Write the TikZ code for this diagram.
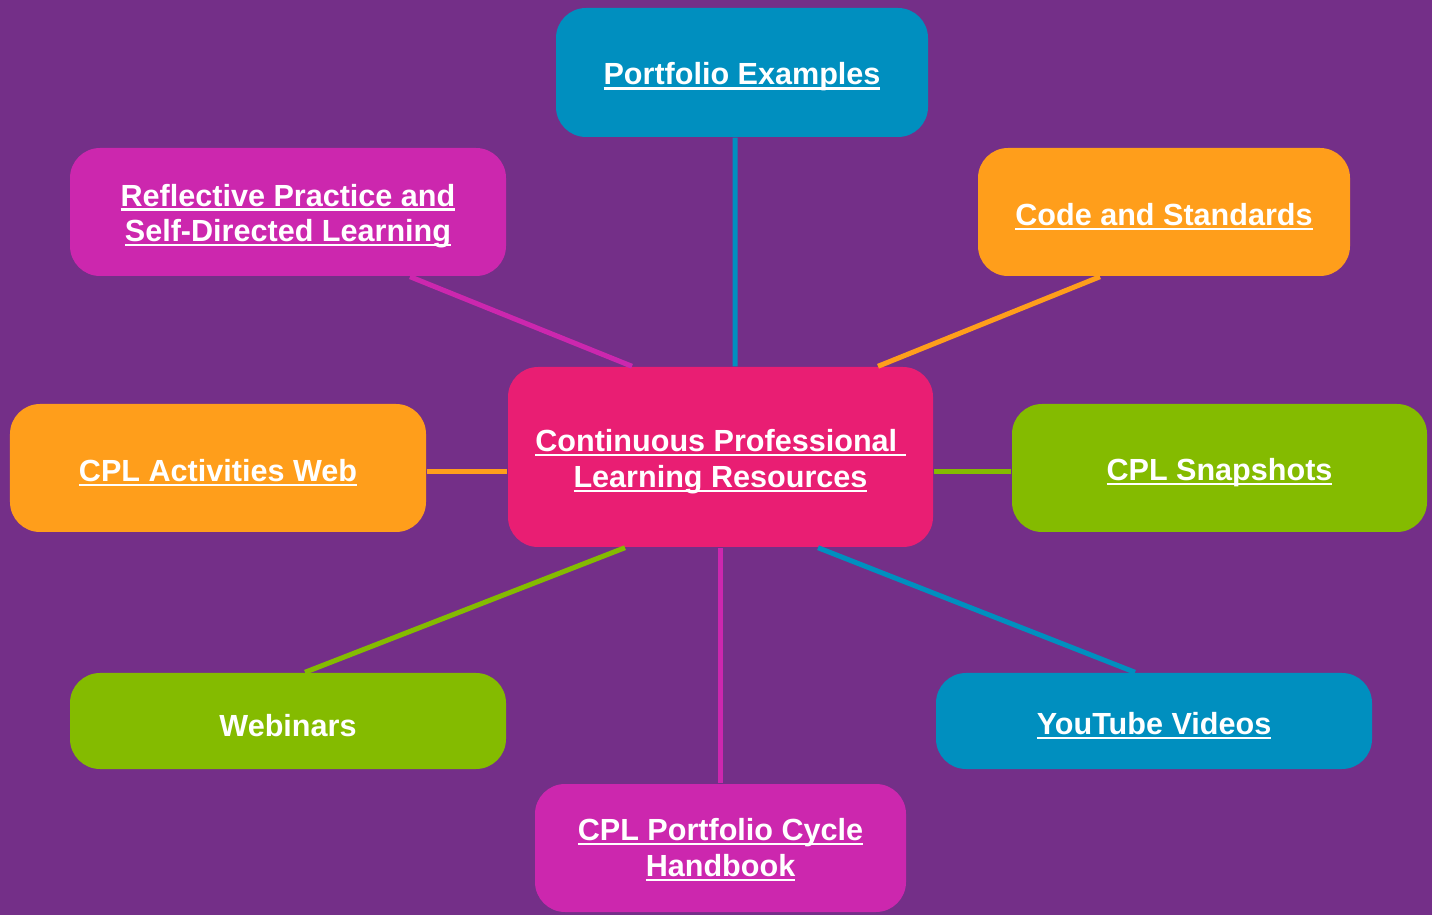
\documentclass[tikz,border=0pt]{standalone}
\usepackage{fontspec}
\usepackage{tikz}
\setmainfont{Liberation Sans}
\definecolor{purple1}{HTML}{742F88}
\definecolor{blue1}{HTML}{008FBF}
\definecolor{magenta1}{HTML}{CC27AE}
\definecolor{orange1}{HTML}{FF9E1B}
\definecolor{green1}{HTML}{84BB00}
\definecolor{pink1}{HTML}{E91E73}
% underlined link text
\newcommand{\lnk}[1]{\setbox0\hbox{#1}\rlap{\copy0}\rule[-1.3pt]{\wd0}{0.6pt}}
\tikzset{
  lift/.style={execute at begin node={\rule{0pt}{#1}}},
  box/.style={rounded corners=0.3cm, text=white, align=center, inner sep=0pt,
    lift=8.9pt, font=\fontsize{8.7}{10.2}\selectfont\bfseries},
  spoke/.style={line width=0.05cm}
}

\begin{document}
\begin{tikzpicture}
\fill[purple1] (0,0) rectangle (14.32,9.15);
\useasboundingbox (0,0) rectangle (14.32,9.15);
% hub and the eight resources round it
\node[box,lift=19.35pt,fill=pink1,minimum width=4.25cm,minimum height=1.8cm] (hub) at (7.205,4.58)
  {\lnk{Continuous Professional\ }\\\lnk{Learning Resources}};
\node[box,fill=blue1,minimum width=3.72cm,minimum height=1.29cm] (port) at (7.42,8.425)
  {\lnk{Portfolio Examples}};
\node[box,lift=18.85pt,fill=magenta1,minimum width=4.36cm,minimum height=1.28cm] (refl) at (2.88,7.03)
  {\lnk{Reflective Practice and}\\\lnk{Self-Directed Learning}};
\node[box,fill=orange1,minimum width=3.72cm,minimum height=1.28cm] (code) at (11.64,7.03)
  {\lnk{Code and Standards}};
\node[box,fill=orange1,minimum width=4.16cm,minimum height=1.28cm] (act) at (2.18,4.47)
  {\lnk{CPL Activities Web}};
\node[box,fill=green1,minimum width=4.15cm,minimum height=1.28cm] (snap) at (12.195,4.47)
  {\lnk{CPL Snapshots}};
\node[box,fill=green1,minimum width=4.36cm,minimum height=0.96cm] (web) at (2.88,1.94)
  {Webinars};
\node[box,fill=blue1,minimum width=4.36cm,minimum height=0.96cm] (yt) at (11.54,1.94)
  {\lnk{YouTube Videos}};
\node[box,lift=17.35pt,fill=magenta1,minimum width=3.71cm,minimum height=1.28cm] (hand) at (7.205,0.67)
  {\lnk{CPL Portfolio Cycle}\\\lnk{Handbook}};
% spokes
\draw[spoke,blue1] ([xshift=-0.07cm]port.south) -- ([xshift=0.145cm]hub.north);
\draw[spoke,magenta1] ([xshift=1.22cm]refl.south) -- ([xshift=-0.885cm]hub.north);
\draw[spoke,orange1] ([xshift=-0.64cm]code.south) -- ([xshift=1.575cm]hub.north);
\draw[spoke,orange1] ([yshift=-0.04cm]act.east) -- ([yshift=-0.15cm]hub.west);
\draw[spoke,green1] ([yshift=-0.04cm]snap.west) -- ([yshift=-0.15cm]hub.east);
\draw[spoke,green1] ([xshift=0.17cm]web.north) -- ([xshift=-0.955cm]hub.south);
\draw[spoke,blue1] ([xshift=-0.19cm]yt.north) -- ([xshift=0.975cm]hub.south);
\draw[spoke,magenta1] (hand.north) -- (hub.south);
\end{tikzpicture}
\end{document}
